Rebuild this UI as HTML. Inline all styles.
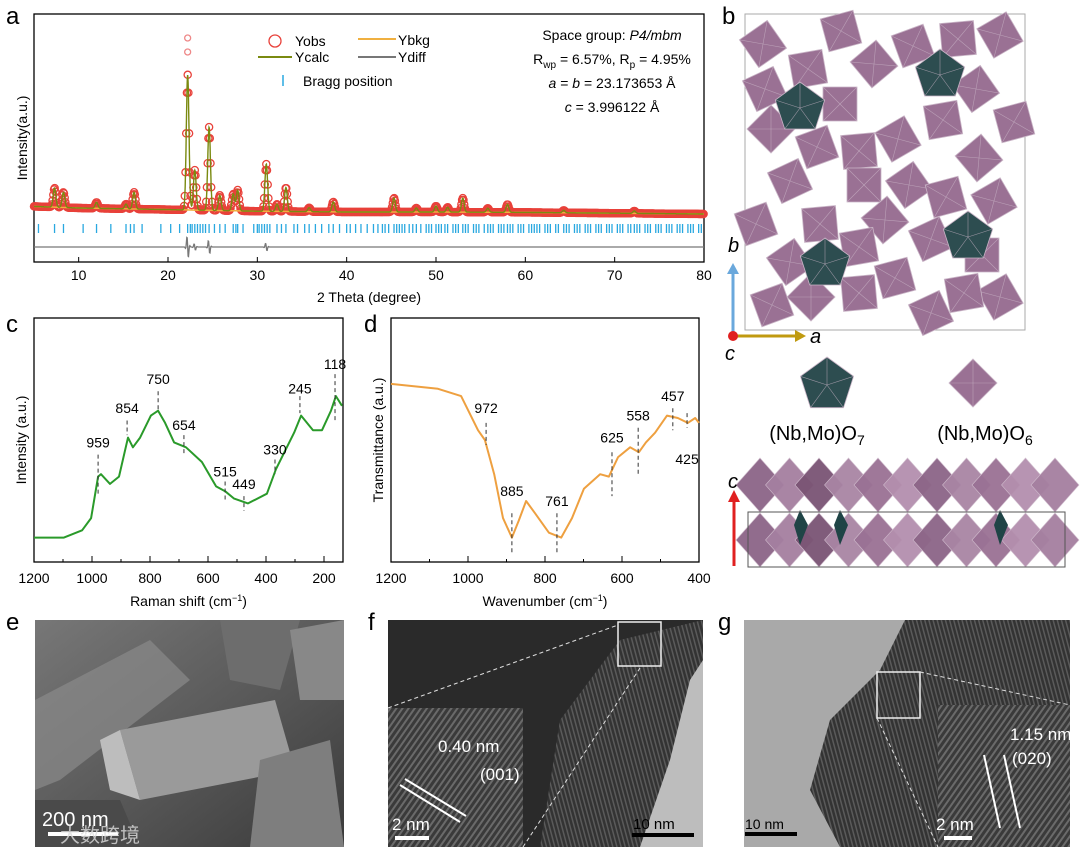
<!DOCTYPE html>
<html><head><meta charset="utf-8">
<style>
body{margin:0;background:#fff;}
svg{display:block;font-family:"Liberation Sans","Noto Sans CJK SC",sans-serif;}
</style></head>
<body>
<svg id="fig" width="1080" height="852" viewBox="0 0 1080 852" xmlns="http://www.w3.org/2000/svg">
<defs>
<linearGradient id="gE" x1="0" y1="0" x2="1" y2="1"><stop offset="0" stop-color="#777"/><stop offset="0.5" stop-color="#5a5a5a"/><stop offset="1" stop-color="#3a3a3a"/></linearGradient>
<pattern id="lat" width="5" height="5" patternUnits="userSpaceOnUse" patternTransform="rotate(35)"><rect width="5" height="5" fill="#3a3a3a"/><rect width="2" height="5" fill="#6a6a6a"/></pattern>
<pattern id="lat2" width="4" height="4" patternUnits="userSpaceOnUse" patternTransform="rotate(-15)"><rect width="4" height="4" fill="#333"/><rect width="1.5" height="4" fill="#5a5a5a"/></pattern>
</defs>

<text x="6" y="24" font-size="24">a</text>
<text x="722" y="24" font-size="24">b</text>
<text x="6" y="332" font-size="24">c</text>
<text x="364" y="332" font-size="24">d</text>
<text x="6" y="630" font-size="24">e</text>
<text x="368" y="630" font-size="24">f</text>
<text x="718" y="630" font-size="24">g</text>

<g id="pa"></g>
<g id="pc"></g>
<g id="pd"></g>
<g id="pb"></g>

<g>
<rect x="35" y="620" width="309" height="227" fill="url(#gE)"/>
<polygon points="35,700 150,640 190,680 60,780 35,790" fill="#8a8a8a" opacity="0.7"/>
<polygon points="120,730 275,700 295,770 140,800" fill="#9a9a9a"/>
<polygon points="120,730 140,800 110,790 100,740" fill="#bdbdbd"/>
<polygon points="220,620 300,620 280,690 230,680" fill="#6d6d6d"/>
<polygon points="260,760 330,740 344,847 250,847" fill="#7e7e7e"/>
<polygon points="35,800 120,800 140,847 35,847" fill="#4a4a4a"/>
<polygon points="290,630 344,620 344,700 300,700" fill="#888"/>
<text x="42" y="826" font-size="20" fill="#fff">200 nm</text>
<rect x="48" y="832" width="70" height="4" fill="#fff"/>
<text x="60" y="842" font-size="20" fill="#ddd" opacity="0.8">大数跨境</text>
</g>

<g>
<rect x="388" y="620" width="315" height="227" fill="#2a2a2a"/>
<polygon points="540,847 560,720 620,640 703,620 703,847" fill="url(#lat2)"/>
<polygon points="640,847 670,760 690,680 703,660 703,847" fill="#bdbdbd"/>
<rect x="388" y="708" width="135" height="139" fill="url(#lat)"/>
<line x1="388" y1="708" x2="618" y2="625" stroke="#ddd" stroke-dasharray="4,3"/>
<line x1="523" y1="847" x2="640" y2="668" stroke="#ddd" stroke-dasharray="4,3"/>
<rect x="618" y="622" width="43" height="44" fill="none" stroke="#eee" stroke-width="1.5"/>
<text x="438" y="752" font-size="17" fill="#fff">0.40 nm</text>
<text x="480" y="780" font-size="17" fill="#fff">(001)</text>
<line x1="400" y1="785" x2="460" y2="822" stroke="#fff" stroke-width="2"/>
<line x1="405" y1="779" x2="466" y2="816" stroke="#fff" stroke-width="2"/>
<text x="392" y="830" font-size="17" fill="#fff">2 nm</text>
<rect x="395" y="836" width="34" height="4" fill="#fff"/>
<text x="633" y="829" font-size="15" fill="#000">10 nm</text>
<rect x="632" y="833" width="62" height="4" fill="#000"/>
</g>

<g>
<rect x="744" y="620" width="326" height="227" fill="#a9a9a9"/>
<polygon points="905,620 1070,620 1070,847 840,847 810,790 830,720 880,670" fill="url(#lat2)"/>
<rect x="938" y="705" width="132" height="142" fill="url(#lat)"/>
<rect x="877" y="672" width="43" height="46" fill="none" stroke="#eee" stroke-width="1.5"/>
<line x1="920" y1="672" x2="1070" y2="705" stroke="#ddd" stroke-dasharray="4,3"/>
<line x1="877" y1="718" x2="938" y2="847" stroke="#ddd" stroke-dasharray="4,3"/>
<text x="1010" y="740" font-size="17" fill="#fff">1.15 nm</text>
<text x="1012" y="764" font-size="17" fill="#fff">(020)</text>
<line x1="984" y1="755" x2="1000" y2="828" stroke="#fff" stroke-width="2"/>
<line x1="1004" y1="755" x2="1020" y2="828" stroke="#fff" stroke-width="2"/>
<text x="936" y="830" font-size="17" fill="#fff">2 nm</text>
<rect x="944" y="836" width="28" height="4" fill="#fff"/>
<text x="745" y="829" font-size="14" fill="#000">10 nm</text>
<rect x="745" y="832" width="52" height="4" fill="#000"/>
</g>
</svg>
<script>
const NS='http://www.w3.org/2000/svg';
function mk(p,tag,at,txt){const e=document.createElementNS(NS,tag);for(const k in at)e.setAttribute(k,at[k]);if(txt!==undefined)e.textContent=txt;p.appendChild(e);return e;}

/* ---------- XRD data ---------- */
const xrdPeakPos=[7.3,8.3,12,15.3,16.2,22.2,23,24.6,25.8,27.3,27.8,31,32.2,33.2,35.8,38.5,45.3,47.8,50,51.3,53,55.8,58,64.3,72.2];
const xrdPeakHt=[48,38,15,12,42,338,100,208,38,42,52,118,18,60,10,25,35,10,15,12,35,10,20,6,6];
const xrdBkgX=[5,10,20,30,40,50,60,70,80];
const xrdBkgY=[84,80,76,72,70,70,69,67,65];
const xrdObsExtraX=[22.2,22.2];
const xrdObsExtraY=[505,470];
const braggPos=[5.5,7.3,8.3,10.5,12,13.6,15.3,15.8,16.2,17.1,19.2,20.3,21.3,22.2,22.5,22.7,23,23.3,23.6,23.9,24.2,24.6,25.2,25.8,26.4,27.3,27.6,27.8,28.4,29.6,30,30.2,30.5,30.8,31.1,31.4,32.2,32.7,33.2,34.1,34.5,35.3,35.8,36.5,37.2,38,38.5,39.2,40,40.4,41,41.6,42.3,43,43.5,44,44.3,44.7,45.3,45.6,45.9,46.2,46.5,47,47.4,47.8,48.3,48.9,49.2,49.5,50,50.3,50.6,51,51.3,51.9,52.2,52.5,53,53.3,53.6,54.2,54.5,54.8,55.4,55.8,56.1,56.4,57,57.3,57.6,58,58.3,58.6,59.2,59.5,59.8,60.4,60.7,61,61.3,61.6,62.2,62.5,62.8,63.4,63.7,64.3,64.6,64.9,65.5,65.8,66.1,66.7,67,67.3,67.9,68.2,68.5,69.1,69.4,69.7,70.3,70.6,70.9,71.5,71.8,72.2,72.5,72.8,73.4,73.7,74,74.6,74.9,75.2,75.8,76.1,76.4,77,77.3,77.6,78.2,78.5,78.8,79.4,79.7];
const xrdTicks=[10,20,30,40,50,60,70,80];

/* ---------- Raman data ---------- */
const ramanX=[1200,1097,1034,1003,979,969,938,907,876,859,834,797,772,748,717,676,621,572,541,510,462,397,366,303,279,238,207,176,159,138];
const ramanY=[10,10,13,18,35,36,32,35,51,47,51,60,62,57,49,47,41,31,29,26,24,28,38,53,60,54,54,62,68,64];
const ramanLabels=['959','854','750','654','515','449','330','245','118'];
const ramanLabelPos=[979,879,772,683,541,476,369,283,162];
const ramanLabelY=[47,61,73,54,35,30,44,69,79];
const ramanDashTop=[44,58,70,52,33,27,42,68,77];
const ramanDashBot=[27,52,62,44,25,21,36,61,58];
const ramanTicks=[1200,1000,800,600,400,200];

/* ---------- FTIR data ---------- */
const ftirX=[1200,1078,1018,974,956,932,909,886,868,849,826,790,758,730,699,657,634,610,579,556,538,514,483,455,429,410,400];
const ftirY=[73,71,68,54,50,36,18,10,17,25,20,12,10,18,30,36,35,43,47,45,49,53,60,59,57,59,57];
const ftirLabels=['972','885','761','625','558','457','425'];
const ftirLabelPos=[953,886,769,626,558,468,431];
const ftirLabelY=[61,27,23,49,58,66,45];
const ftirDashTop=[57,20,20,45,55,63,61];
const ftirDashBot=[48,3,3,27,36,54,55];
const ftirTicks=[1200,1000,800,600,400];

/* ===== panel a ===== */
const a=document.getElementById('pa');
const ax=t=>34+(t-5)*(704-34)/75, ay=I=>240-I*0.4;
function bkg(t){for(let i=0;i<xrdBkgX.length-1;i++){if(t<=xrdBkgX[i+1]){const f=(t-xrdBkgX[i])/(xrdBkgX[i+1]-xrdBkgX[i]);return xrdBkgY[i]+f*(xrdBkgY[i+1]-xrdBkgY[i]);}}return xrdBkgY[xrdBkgY.length-1];}
function calc(t){let s=bkg(t);for(let i=0;i<xrdPeakPos.length;i++){const dd=(t-xrdPeakPos[i])/0.15;s+=xrdPeakHt[i]*Math.exp(-0.5*dd*dd);}return s;}
let el=mk(a,'rect',{x:34,y:14,width:670,height:248,fill:'none',stroke:'#000','stroke-width':1.3});


const obsG=mk(a,'g',{fill:'none',stroke:'#e8413a','stroke-width':1.3});


for(let t=5;t<=80;t+=0.08){mk(obsG,'circle',{cx:ax(t).toFixed(1),cy:ay(calc(t)).toFixed(1),r:3.6});}
for(let i=0;i<xrdObsExtraX.length;i++){mk(obsG,'circle',{cx:ax(xrdObsExtraX[i]),cy:ay(xrdObsExtraY[i]),r:3,stroke:'#e88'});}
let d='';for(let t=5;t<=80;t+=0.5)d+=(d?'L':'M')+ax(t).toFixed(1)+','+ay(bkg(t)).toFixed(1);
el=mk(a,'path',{d:d,fill:'none',stroke:'#f0b040','stroke-width':1.5});


d='';for(let t=5;t<=80;t+=0.03)d+=(d?'L':'M')+ax(t).toFixed(1)+','+ay(calc(t)).toFixed(1);
el=mk(a,'path',{d:d,fill:'none',stroke:'#7a8a10','stroke-width':1.4});


const bg=mk(a,'g',{stroke:'#29a8e0','stroke-width':1.3});


braggPos.forEach(b=>mk(bg,'line',{x1:ax(b),x2:ax(b),y1:224,y2:233}));
d='';for(let t=5;t<=80;t+=0.05){let v=0;for(let i=0;i<xrdPeakPos.length;i++){if(xrdPeakHt[i]>80){const dd=(t-xrdPeakPos[i])/0.06;v+=xrdPeakHt[i]*0.04*Math.sin(dd)*Math.exp(-dd*dd/8);}}d+=(d?'L':'M')+ax(t).toFixed(1)+','+(247+v).toFixed(1);}
el=mk(a,'path',{d:d,fill:'none',stroke:'#777','stroke-width':1.3});


xrdTicks.forEach(t=>{mk(a,'line',{x1:ax(t),x2:ax(t),y1:262,y2:257,stroke:'#000'});
 const tl=mk(a,'text',{x:ax(t),y:280,'font-size':14,'text-anchor':'middle'},t);
 
 });
el=mk(a,'text',{x:369,y:302,'font-size':14,'text-anchor':'middle'},'2 Theta (degree)');


el=mk(a,'text',{x:0,y:0,'font-size':14,'text-anchor':'middle',transform:'translate(27,138) rotate(-90)'},'Intensity(a.u.)');


const lg=mk(a,'g',{'font-size':14});


mk(lg,'circle',{cx:275,cy:41,r:6,fill:'none',stroke:'#e8413a','stroke-width':1.3});
mk(lg,'text',{x:295,y:46},'Yobs');
mk(lg,'line',{x1:258,x2:292,y1:57,y2:57,stroke:'#7a8a10','stroke-width':2});
mk(lg,'text',{x:295,y:62},'Ycalc');
mk(lg,'line',{x1:358,x2:396,y1:39,y2:39,stroke:'#f0b040','stroke-width':2});
mk(lg,'text',{x:398,y:45},'Ybkg');
mk(lg,'line',{x1:358,x2:396,y1:57,y2:57,stroke:'#777','stroke-width':2});
mk(lg,'text',{x:398,y:62},'Ydiff');
mk(lg,'line',{x1:283,x2:283,y1:75,y2:86,stroke:'#29a8e0','stroke-width':1.5});
mk(lg,'text',{x:303,y:86},'Bragg position');
const info=mk(a,'g',{'font-size':14,'text-anchor':'middle'});


info.innerHTML='<text x="612" y="40">Space group: <tspan font-style="italic">P4/mbm</tspan></text><text x="612" y="64">R<tspan font-size="10" dy="4">wp</tspan><tspan dy="-4"> = 6.57%, R</tspan><tspan font-size="10" dy="4">p</tspan><tspan dy="-4"> = 4.95%</tspan></text><text x="612" y="88"><tspan font-style="italic">a</tspan> = <tspan font-style="italic">b</tspan> = 23.173653 Å</text><text x="612" y="112"><tspan font-style="italic">c</tspan> = 3.996122 Å</text>';

/* ===== spectrum panels ===== */
function spectrum(g,prefix,x0,x1,v0,scale,xs,ys,color,labels,lpos,ly,dt,db,ticks,minorStep,vmin,xtitle,ytitle){
 const X=v=>x0+(v0-v)*scale, Y=I=>562-I*2.44;
 let f=mk(g,'rect',{x:x0,y:318,width:x1-x0,height:244,fill:'none',stroke:'#000','stroke-width':1.3});
 
 
 for(let v=v0;v>=vmin;v-=minorStep){const isMaj=ticks.indexOf(v)>=0;mk(g,'line',{x1:X(v),x2:X(v),y1:562,y2:isMaj?556:559,stroke:'#000'});}
 ticks.forEach(v=>{const t=mk(g,'text',{x:X(v),y:583,'font-size':14,'text-anchor':'middle'},v);
  
  });
 let dd='';for(let i=0;i<xs.length;i++)dd+=(i?'L':'M')+X(xs[i]).toFixed(1)+','+Y(ys[i]).toFixed(1);
 const ln=mk(g,'path',{d:dd,fill:'none',stroke:color,'stroke-width':2,'stroke-linejoin':'round'});
 
 
 for(let i=0;i<labels.length;i++){
  const dl=mk(g,'line',{x1:X(lpos[i]),x2:X(lpos[i]),y1:Y(dt[i]),y2:Y(db[i]),stroke:'#333','stroke-dasharray':'4,3'});
  
  
  const below=ly[i]<dt[i];
  const t=mk(g,'text',{x:X(lpos[i]),y:below?Y(ly[i])+12:Y(ly[i]),'font-size':14,'text-anchor':'middle'},labels[i]);
  
  
 }
 const xt=mk(g,'text',{x:(x0+x1)/2,y:606,'font-size':14,'text-anchor':'middle'});
 xt.innerHTML=xtitle+' (cm<tspan font-size="9" dy="-5">−1</tspan><tspan dy="5">)</tspan>';
 
 
 const yt=mk(g,'text',{x:0,y:0,'font-size':14,'text-anchor':'middle',transform:'translate('+(x0-8)+',440) rotate(-90)'},ytitle);
 
 
}
spectrum(document.getElementById('pc'),'raman',34,343,1200,0.29,ramanX,ramanY,'#2a9a2a',ramanLabels,ramanLabelPos,ramanLabelY,ramanDashTop,ramanDashBot,ramanTicks,100,140,'Raman shift','Intensity (a.u.)');
spectrum(document.getElementById('pd'),'ftir',391,699,1200,0.385,ftirX,ftirY,'#eea040',ftirLabels,ftirLabelPos,ftirLabelY,ftirDashTop,ftirDashBot,ftirTicks,100,400,'Wavenumber','Transmittance (a.u.)');

/* ===== panel b structure ===== */
const b=document.getElementById('pb');
const octCenters=[[763,44],[841,31],[874,64],[913,46],[958,39],[1000,35],[808,69],[765,89],[840,104],[976,89],[1014,122],[771,129],[817,147],[859,151],[898,139],[943,120],[979,158],[790,181],[864,185],[909,185],[946,197],[994,201],[756,224],[820,224],[885,220],[859,247],[931,239],[790,262],[895,278],[982,255],[1000,297],[772,305],[811,297],[859,293],[931,313],[964,293]];
const octAngles=[10,30,5,25,40,15,35,20,45,10,30,0,25,40,15,35,5,20,45,10,30,15,25,40,5,35,20,10,30,45,15,25,0,40,20,35];
const pentCenters=[[800,108],[940,75],[825,264],[968,237]];
el=mk(b,'rect',{x:745,y:14,width:280,height:316,fill:'none',stroke:'#aaa','stroke-width':1});


function poly(g,cx,cy,r,n,ang,fill,nm){let pts=[];for(let k=0;k<n;k++){const t=(ang+360*k/n-90)*Math.PI/180;pts.push([cx+r*Math.cos(t),cy+r*Math.sin(t)]);}
 const pg=mk(g,'polygon',{points:pts.map(p=>p[0].toFixed(1)+','+p[1].toFixed(1)).join(' '),fill:fill,stroke:'#c9b4c6','stroke-width':0.8});
 
 
 pts.forEach(p=>mk(g,'line',{x1:cx,y1:cy,x2:p[0].toFixed(1),y2:p[1].toFixed(1),stroke:'#c9b4c6','stroke-width':0.6,opacity:0.7}));}
octCenters.forEach((c,i)=>poly(b,c[0],c[1],24,4,octAngles[i],'#9a7194','octahedron'));
pentCenters.forEach(c=>poly(b,c[0],c[1],26,5,0,'#2d4d50','pentagonal-bipyramid'));
mk(b,'line',{x1:733,y1:336,x2:733,y2:272,stroke:'#6aa8dc','stroke-width':3});
mk(b,'polygon',{points:'727,274 739,274 733,263',fill:'#6aa8dc'});
mk(b,'line',{x1:733,y1:336,x2:797,y2:336,stroke:'#c09a10','stroke-width':3});
mk(b,'polygon',{points:'795,330 795,342 806,336',fill:'#c09a10'});
mk(b,'circle',{cx:733,cy:336,r:5,fill:'#e02020'});
el=mk(b,'text',{x:728,y:252,'font-size':20,'font-style':'italic'},'b');


el=mk(b,'text',{x:810,y:343,'font-size':20,'font-style':'italic'},'a');


el=mk(b,'text',{x:725,y:360,'font-size':20,'font-style':'italic'},'c');


poly(b,827,385,28,5,0,'#2d4d50','legend-pentagon');
poly(b,973,383,24,4,0,'#9a7194','legend-octahedron');
el=mk(b,'text',{x:817,y:440,'font-size':20,'text-anchor':'middle'});
el.innerHTML='(Nb,Mo)O<tspan font-size="14" dy="5">7</tspan>';


el=mk(b,'text',{x:985,y:440,'font-size':20,'text-anchor':'middle'});
el.innerHTML='(Nb,Mo)O<tspan font-size="14" dy="5">6</tspan>';


const sv=mk(b,'g',{});


const sideFills=['#8c6587','#a57fa0','#7a5474','#a985a4','#9a7194','#b48fae','#8c6587','#a985a4','#9a7194','#b48fae','#a57fa0'];
[485,540].forEach(cy=>{for(let i=0;i<11;i++){const cx=760+i*29.5;mk(sv,'polygon',{points:(cx-24)+','+cy+' '+cx+','+(cy-27)+' '+(cx+24)+','+cy+' '+cx+','+(cy+27),fill:sideFills[i],stroke:'#d0bccd','stroke-width':0.6,opacity:0.95});}});
[800,840,1000].forEach(x=>{mk(sv,'polygon',{points:x+',510 '+(x+8)+',525 '+x+',545 '+(x-6)+',525',fill:'#1f4446'});});
mk(sv,'rect',{x:748,y:512,width:317,height:55,fill:'none',stroke:'#555','stroke-width':1});
mk(sv,'line',{x1:734,y1:566,x2:734,y2:500,stroke:'#e02020','stroke-width':3});
mk(sv,'polygon',{points:'728,502 740,502 734,490',fill:'#e02020'});
el=mk(b,'text',{x:728,y:488,'font-size':20,'font-style':'italic'},'c');


</script>
</body></html>
